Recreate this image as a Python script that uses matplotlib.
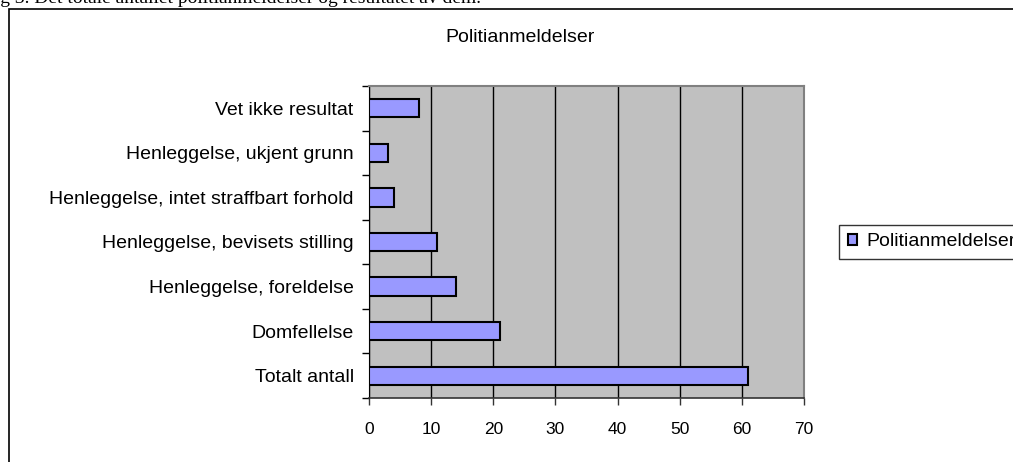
import matplotlib
matplotlib.use("Agg")
from matplotlib import pyplot as plt
from matplotlib.patches import Rectangle
import numpy as np

# data (bottom to top, as drawn)
categories = ["Totalt antall", "Domfellelse", "Henleggelse, foreldelse",
              "Henleggelse, bevisets stilling", "Henleggelse, intet straffbart forhold",
              "Henleggelse, ukjent grunn", "Vet ikke resultat"]
values = [61, 21, 14, 11, 4, 3, 8]
xticks = [0, 10, 20, 30, 40, 50, 60, 70]
series_name = "Politianmeldelser"
caption = "Fig 3. Det totale antallet politianmeldelser og resultatet av dem."

W, H = 1013, 462
fig = plt.figure(figsize=(W / 100, H / 100), dpi=100)
sans = "Liberation Sans"

# caption cut off at the top of the page
fig.text(-16 / W, (H - 3) / H, caption, family="Liberation Serif", fontsize=14,
         ha="left", va="baseline")

# outer chart border
fig.patches.append(Rectangle((9 / W, -0.2), 1.2, (H - 9) / H + 0.2,
                             transform=fig.transFigure, fill=False,
                             edgecolor="black", linewidth=1.2, figure=fig))

ax = fig.add_axes([369 / W, 64 / H, 435 / W, 312 / H])
ax.set_facecolor("#C0C0C0")
y = np.arange(len(categories))
ax.barh(y, values, height=0.41, color="#9999FF", edgecolor="black",
        linewidth=1.5, label=series_name, zorder=3)
ax.set_xlim(0, 70)
ax.set_ylim(-0.5, len(categories) - 0.5)
ax.set_xticks(xticks)
ax.set_xticklabels([str(t) for t in xticks], family=sans, fontsize=12.5)
ax.set_yticks(y)
ax.set_yticklabels(categories, family=sans, fontsize=14)
ax.set_yticks(np.arange(-0.5, len(categories), 1.0), minor=True)
ax.tick_params(axis="y", which="major", length=0, pad=11)
ax.tick_params(axis="y", which="minor", length=5, width=1, direction="out")
ax.tick_params(axis="x", length=5, width=1, direction="out", pad=12,
               color="#333333")
ax.xaxis.grid(True, color="black", linewidth=1, zorder=1)
ax.set_axisbelow(True)
for s in ["top", "right"]:
    ax.spines[s].set_color("#808080")
    ax.spines[s].set_linewidth(1.5)
ax.spines["left"].set_color("black")
ax.spines["bottom"].set_color("#333333")
ax.spines["bottom"].set_linewidth(1.2)

fig.text(520 / W, (H - 37) / H, series_name, family=sans, fontsize=14,
         ha="center", va="center")

fig.legend(loc="center left", bbox_to_anchor=(839 / W, (H - 242) / H),
           prop={"family": sans, "size": 14}, frameon=True, fancybox=False,
           edgecolor="black", handlelength=0.5, handleheight=0.5,
           handletextpad=0.45, borderpad=0.45, borderaxespad=0)

fig.savefig("out.png", dpi=100)
